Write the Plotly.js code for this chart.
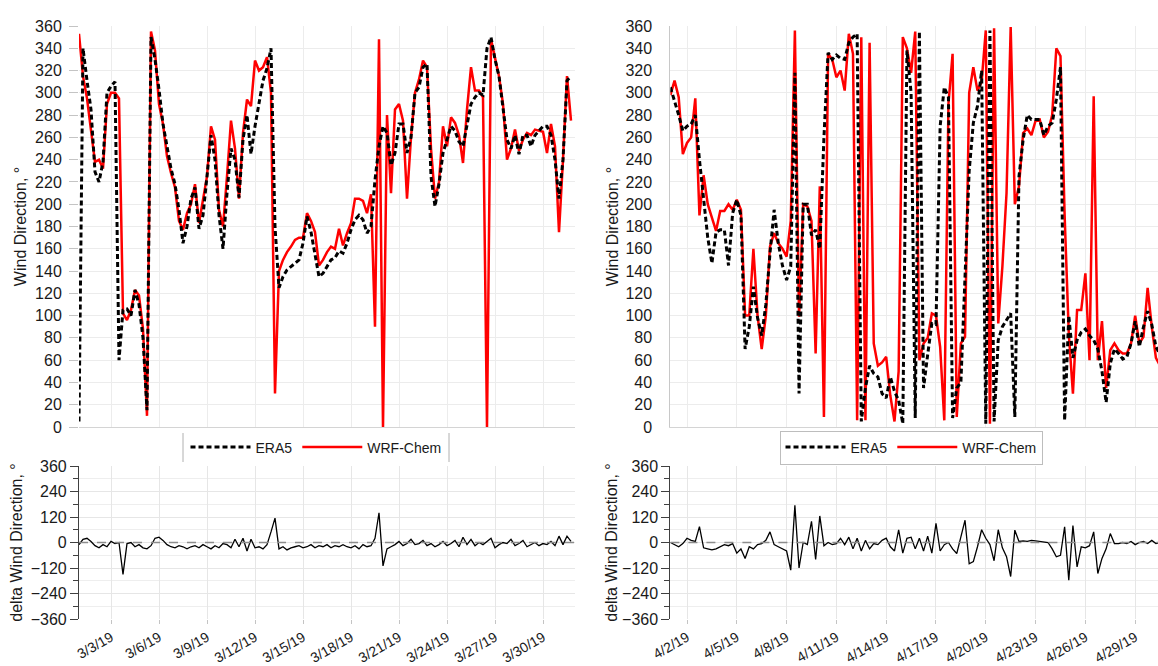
<!DOCTYPE html>
<html>
<head>
<meta charset="utf-8">
<script src="https://cdn.plot.ly/plotly-3.0.1.min.js"></script>
<style>html,body{margin:0;padding:0;background:#fff;}#chart{width:1158px;height:666px;}</style>
</head>
<body>
<div id="chart"></div>
<script>
// ---- data (6-hourly samples) ----
const marchStart = '2019-03-01T00:00';
const aprilStart = '2019-04-01T00:00';
const stepHours = 6;

const era5March = [5,340,311,285,229,220,238,300,306,310,60,105,106,100,123,110,80,15,350,330,
  303,272,252,232,218,195,165,180,205,215,178,190,225,262,240,190,160,210,250,240,
  206,258,280,245,270,290,311,322,340,180,125,135,141,144,147,150,165,189,175,153,
  135,138,144,150,152,158,156,165,177,186,190,186,174,180,222,252,270,264,235,246,
  272,272,246,260,300,305,323,326,225,198,218,246,258,270,266,256,252,270,290,296,
  300,298,340,350,330,315,285,258,250,262,245,262,262,252,262,266,270,270,262,240,
  205,240,311,315];
const wrfMarch = [353,315,295,268,238,240,232,290,300,300,295,102,96,105,123,118,88,10,355,338,
  290,272,243,228,215,185,177,192,200,218,183,204,225,270,258,195,180,225,275,250,
  205,264,294,288,329,320,323,332,300,30,140,150,157,162,168,170,170,192,185,175,
  145,150,157,162,160,178,163,174,183,205,205,203,192,209,90,348,0,280,210,285,
  290,275,205,260,300,312,329,323,250,205,220,270,252,278,273,262,237,285,323,302,
  302,296,0,348,332,315,290,240,250,267,248,258,264,262,267,266,265,246,272,252,
  175,240,315,275];
const deltaMarch = [-10,15,20,5,-15,-25,-10,-20,5,-5,0,-150,-5,0,-20,-10,-25,-30,-15,20,
  25,10,-10,-20,-25,-15,-20,-30,-20,-15,-25,-10,-20,-30,-15,-25,-5,-10,-25,15,
  -20,20,-40,15,-25,-20,-30,-10,50,115,-30,-20,-35,-25,-20,-15,-25,-20,-10,-25,
  -15,-20,-10,-25,-15,-20,-10,-20,-25,-15,-30,-10,-20,-15,20,140,-110,-30,-20,-10,
  5,-15,-5,15,-10,-5,10,-15,-5,-20,-10,5,-15,-5,10,-20,25,-10,15,-15,
  0,-10,5,20,-25,-10,0,-5,15,-15,-5,10,-20,-10,0,-15,-5,-10,5,-15,
  30,-10,30,5];

const era5April = [305,293,280,266,270,272,280,240,205,170,147,175,177,177,145,192,204,190,70,90,
  126,98,82,110,156,195,165,145,132,144,318,30,200,200,172,177,160,260,336,330,
  334,331,330,345,350,353,5,35,55,48,45,30,26,45,32,24,3,338,300,8,
  355,35,65,93,92,270,305,296,8,35,40,144,230,273,288,320,3,356,5,78,
  90,96,102,9,225,258,280,276,276,276,262,270,273,294,323,6,100,62,78,85,
  88,82,78,70,50,22,57,70,66,61,63,75,95,72,90,104,92,72,65];
const wrfApril = [298,311,296,245,255,260,295,190,226,200,188,176,194,194,200,195,204,195,100,100,
  160,100,70,100,162,174,165,160,153,185,356,99,200,198,185,66,216,9,335,330,
  314,320,302,353,335,6,350,6,345,75,55,58,63,28,5,50,350,340,318,355,
  60,75,80,102,100,72,6,290,335,9,75,81,300,323,302,310,356,3,358,93,
  144,210,359,200,216,264,268,262,275,276,260,265,280,340,333,190,84,30,105,105,
  138,60,297,60,95,35,69,75,69,66,66,75,100,75,81,125,90,62,55];
const deltaApril = [0,-10,-20,-5,20,10,5,75,-25,-30,-35,-30,-20,-10,-15,-5,-50,-30,-75,-20,
  -30,-10,-5,10,50,-10,-20,-30,-40,-130,175,-120,0,-10,100,-80,125,-15,0,-10,
  -5,20,-10,25,-30,20,-40,10,-30,-5,-10,10,20,-20,-40,60,-50,20,25,-30,
  20,-40,30,-50,90,-40,-10,0,-30,-52,20,105,-100,-90,-20,60,20,-10,-86,60,
  -25,-67,-160,58,5,8,5,10,8,5,5,0,-30,-67,-60,74,-177,80,-115,-20,
  -25,-15,50,-146,-75,-30,42,-5,-5,0,-5,5,-10,0,5,-5,10,-5,0];

const seriesNames = ['ERA5', 'WRF-Chem'];
const yTitleTop = 'Wind Direction, °';
const yTitleBottom = 'delta Wind Direction, °';

// ---- helpers ----
function timeAxis(start, n) {
  const t0 = Date.parse(start + ':00Z');
  const out = [];
  for (let i = 0; i < n; i++) {
    out.push(new Date(t0 + i * stepHours * 3600000).toISOString().slice(0, 16).replace('T', ' '));
  }
  return out;
}
const tMar = timeAxis(marchStart, era5March.length);
const tApr = timeAxis(aprilStart, era5April.length);

const FONT = 'Liberation Sans, Arial, sans-serif';
const W = 1158, H = 666;
const px = v => v / W;
const py = v => 1 - v / H;

const era5Line = {color: '#000000', width: 3, dash: '5px,3px'};
const wrfLine = {color: '#ff0000', width: 2.5};
const deltaLine = {color: '#000000', width: 1.3};

const traces = [
  {x: tMar, y: wrfMarch, name: seriesNames[1], type: 'scatter', mode: 'lines', line: wrfLine, xaxis: 'x', yaxis: 'y', legend: 'legend', legendrank: 2},
  {x: tMar, y: era5March, name: seriesNames[0], type: 'scatter', mode: 'lines', line: era5Line, xaxis: 'x', yaxis: 'y', legend: 'legend', legendrank: 1},
  {x: tMar, y: deltaMarch, name: 'delta', type: 'scatter', mode: 'lines', line: deltaLine, xaxis: 'x2', yaxis: 'y2', showlegend: false},
  {x: tApr, y: wrfApril, name: seriesNames[1], type: 'scatter', mode: 'lines', line: wrfLine, xaxis: 'x3', yaxis: 'y3', legend: 'legend2', legendrank: 2},
  {x: tApr, y: era5April, name: seriesNames[0], type: 'scatter', mode: 'lines', line: era5Line, xaxis: 'x3', yaxis: 'y3', legend: 'legend2', legendrank: 1},
  {x: tApr, y: deltaApril, name: 'delta', type: 'scatter', mode: 'lines', line: deltaLine, xaxis: 'x4', yaxis: 'y4', showlegend: false}
];

const leftDom = [px(79), px(575)];
const rightDom = [px(670.4), 1];
const topDom = [py(427), py(26)];
const botDom = [py(619), py(466)];
const DAY3 = 3 * 86400000;

const tickFontY = {family: FONT, size: 16, color: '#1a1a1a'};
const tickFontX = {family: FONT, size: 14, color: '#1a1a1a'};
const titleFont = {family: FONT, size: 16, color: '#1a1a1a'};

function topX(domain, range, tick0, anchor) {
  return {domain, range, type: 'date', anchor, tick0, dtick: DAY3, showticklabels: false,
    showgrid: true, gridcolor: '#ececec', gridwidth: 1, ticks: '', showline: true,
    linecolor: '#d4d4d4', linewidth: 1.2, zeroline: false, automargin: false};
}
function botX(domain, range, tick0, anchor) {
  return {domain, range, type: 'date', anchor, tick0, dtick: DAY3, tickformat: '%-m/%-d/%y',
    tickangle: -30, tickfont: tickFontX, showgrid: true, gridcolor: '#e6e6e6', gridwidth: 1,
    ticks: 'outside', ticklen: 4, tickcolor: '#c4c4c4', showline: false, zeroline: false,
    automargin: false};
}
function topY(domain, anchor, withTicks, standoff) {
  return {domain, anchor, range: [0, 360], dtick: 20, tick0: 0, tickfont: tickFontY,
    ticks: withTicks ? 'outside' : '', ticklen: 9, tickcolor: '#c4c4c4',
    ticklabelstandoff: withTicks ? 4 : 14,
    showline: !withTicks, linecolor: '#c8c8c8', linewidth: 1.2,
    showgrid: true, gridcolor: '#ececec', zeroline: false, automargin: false,
    title: {text: yTitleTop, font: titleFont, standoff}};
}
function botY(domain, anchor, standoff) {
  return {domain, anchor, range: [-360, 360], dtick: 120, tick0: 0, tickfont: tickFontY,
    ticks: 'outside', ticklen: 8, tickcolor: '#404040', showline: true, linecolor: '#404040',
    linewidth: 1.2, showgrid: true, gridcolor: '#e6e6e6', zeroline: false, automargin: false,
    minor: {dtick: 60, tick0: 0, ticks: 'outside', ticklen: 5, tickcolor: '#404040',
      showgrid: true, gridcolor: '#eeeeee'},
    title: {text: yTitleBottom, font: titleFont, standoff}};
}

const legendBase = {orientation: 'h', xanchor: 'center', yanchor: 'middle',
  font: {family: FONT, size: 14, color: '#1a1a1a'}, itemwidth: 60, traceorder: 'normal'};

const layout = {
  width: W, height: H,
  margin: {l: 0, r: 0, t: 0, b: 0, pad: 0},
  paper_bgcolor: '#ffffff', plot_bgcolor: '#ffffff',
  font: {family: FONT, size: 14, color: '#1a1a1a'},
  xaxis: topX(leftDom, ['2019-03-01', '2019-04-01'], '2019-03-03', 'y'),
  yaxis: topY(topDom, 'x', true, 4),
  xaxis2: botX(leftDom, ['2019-03-01', '2019-04-01'], '2019-03-03', 'y2'),
  yaxis2: botY(botDom, 'x2', 4),
  xaxis3: topX(rightDom, ['2019-04-01', '2019-04-30 09:00'], '2019-04-02', 'y3'),
  yaxis3: topY(topDom, 'x3', false, 2),
  xaxis4: botX(rightDom, ['2019-04-01', '2019-04-30 09:00'], '2019-04-02', 'y4'),
  yaxis4: botY(botDom, 'x4', 0),
  showlegend: true,
  legend: Object.assign({}, legendBase, {x: px(316), y: py(447.5), bgcolor: 'rgba(255,255,255,0)', borderwidth: 0}),
  legend2: Object.assign({}, legendBase, {x: px(911), y: py(447.5), bgcolor: '#ffffff', bordercolor: '#bdbdbd', borderwidth: 1}),
  shapes: [
    {type: 'line', xref: 'x2', yref: 'y2', x0: '2019-03-01', x1: '2019-04-01', y0: 0, y1: 0, layer: 'above',
      line: {color: '#8c8c8c', width: 1.5, dash: 'dash'}},
    {type: 'line', xref: 'x4', yref: 'y4', x0: '2019-04-01', x1: '2019-04-30 09:00', y0: 0, y1: 0, layer: 'above',
      line: {color: '#8c8c8c', width: 1.5, dash: 'dash'}},
    {type: 'line', xref: 'paper', yref: 'paper', x0: px(183), x1: px(183), y0: py(433), y1: py(462),
      line: {color: '#b0b0b0', width: 1}},
    {type: 'line', xref: 'paper', yref: 'paper', x0: px(449), x1: px(449), y0: py(433), y1: py(462),
      line: {color: '#b0b0b0', width: 1}}
  ]
};

Plotly.newPlot('chart', traces, layout, {displayModeBar: false});
</script>
</body>
</html>
